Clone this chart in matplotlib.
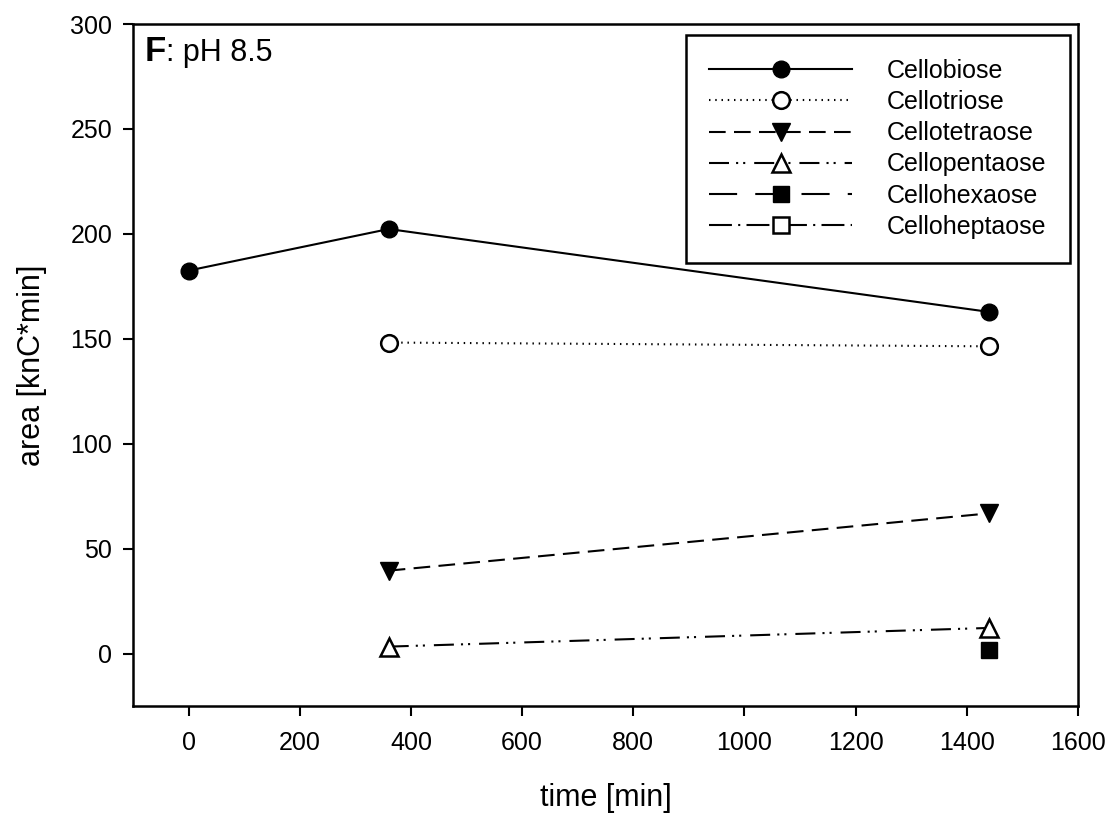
import matplotlib
matplotlib.use("Agg")
import matplotlib.pyplot as plt

plt.rcParams['font.family'] = ['Liberation Sans', 'DejaVu Sans']

# data
cellobiose_t = [0, 360, 1440]
cellobiose_v = [182.5, 202.3, 162.8]
cellotriose_t = [360, 1440]
cellotriose_v = [148.2, 146.4]
cellotetraose_t = [360, 1440]
cellotetraose_v = [39.5, 66.8]
cellopentaose_t = [360, 1440]
cellopentaose_v = [3.3, 12.2]
cellohexaose_t = [1440]
cellohexaose_v = [1.5]
celloheptaose_t = []
celloheptaose_v = []

x_ticks = [0, 200, 400, 600, 800, 1000, 1200, 1400, 1600]
y_ticks = [0, 50, 100, 150, 200, 250, 300]

W, H = 1116, 819
fig = plt.figure(figsize=(W / 100, H / 100), dpi=100)
ax = fig.add_axes([133 / W, 1 - 706 / H, (1078 - 133) / W, (706 - 24) / H])

lw = 1.5
ms = 12
ax.plot(cellobiose_t, cellobiose_v, color='black', lw=lw, ls='-', marker='o', ms=ms,
        mfc='black', mec='black', label='Cellobiose')
ax.plot(cellotriose_t, cellotriose_v, color='black', lw=lw, ls=(0, (0.7, 2.3)), marker='o', ms=ms,
        mfc='white', mec='black', mew=1.8, label='Cellotriose')
ax.plot(cellotetraose_t, cellotetraose_v, color='black', lw=lw, ls=(0, (8, 4)), marker='v', ms=ms + 1,
        mfc='black', mec='black', label='Cellotetraose')
ax.plot(cellopentaose_t, cellopentaose_v, color='black', lw=lw, ls=(0, (9.6, 3.4, 1, 2.4, 1, 4.3)),
        marker='^', ms=ms + 1, mfc='white', mec='black', mew=1.8, label='Cellopentaose')
ax.plot(cellohexaose_t, cellohexaose_v, color='black', lw=lw, ls=(0, (13.5, 8.7)), marker='s', ms=ms - 1,
        mfc='black', mec='black', label='Cellohexaose')
ax.plot(celloheptaose_t, celloheptaose_v, color='black', lw=lw, ls=(0, (11, 3, 1, 3)), marker='s', ms=ms - 1,
        mfc='white', mec='black', mew=1.8, label='Celloheptaose')

ax.set_xlim(-100, 1600)
ax.set_ylim(-25, 300)
ax.set_xticks(x_ticks)
ax.set_yticks(y_ticks)
ax.tick_params(direction='out', length=7, width=1.5, labelsize=18)
ax.tick_params(axis='x', pad=11)
ax.tick_params(axis='y', pad=8)
ax.tick_params(top=False, right=False)
for s in ax.spines.values():
    s.set_linewidth(1.8)

ax.set_xlabel('time [min]', fontsize=22, labelpad=20)
ax.set_ylabel('area [knC*min]', fontsize=22, labelpad=17)

fig.text(145 / W, 1 - 61 / H, 'F', fontsize=25, fontweight='bold', va='baseline', ha='left')
fig.text(166 / W, 1 - 61 / H, ': pH 8.5', fontsize=22, va='baseline', ha='left')

leg = ax.legend(loc='upper right', bbox_to_anchor=(1070 / W, 1 - 35 / H),
                bbox_transform=fig.transFigure, fontsize=18, frameon=True,
                fancybox=False, edgecolor='black', handlelength=5.7, handletextpad=1.4,
                labelspacing=0.29, borderpad=0.95, borderaxespad=0, framealpha=1)
leg.get_frame().set_linewidth(1.8)

fig.savefig('out.png', dpi=100)
